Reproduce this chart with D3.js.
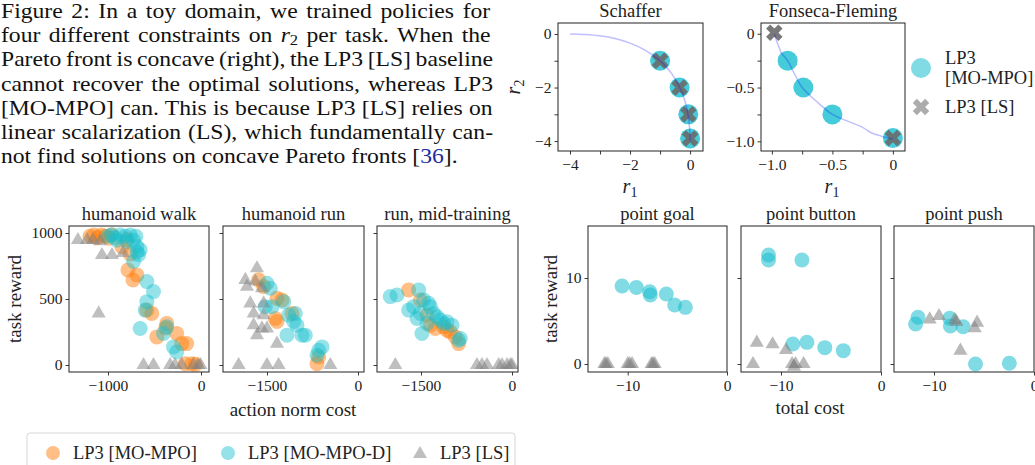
<!DOCTYPE html>
<html>
<head>
<meta charset="utf-8">
<script src="https://cdn.jsdelivr.net/npm/d3@7"></script>
<style>
body{margin:0;background:#fff;}
svg{display:block;}
svg text{font-family:"Liberation Serif", serif;}
</style>
</head>
<body>
<script>
(function(){

    //caption lines (each line is a list of text segments)
    var captionLines = [
        [{t:"Figure 2:  In a toy domain, we trained policies for"}],
        [{t:"four different constraints on "},{t:"r",it:true},{t:"2",sub:true},{t:" per task.  When the"}],
        [{t:"Pareto front is concave (right), the LP3 [LS] baseline"}],
        [{t:"cannot recover the optimal solutions, whereas LP3"}],
        [{t:"[MO-MPO] can.  This is because LP3 [LS] relies on"}],
        [{t:"linear scalarization (LS), which fundamentally can-"}],
        [{t:"not find solutions on concave Pareto fronts ["},{t:"36",link:true},{t:"]."}]
    ];

    //toy domains: pareto fronts and solutions, [r1, r2]
    var schafferFront = [[-4,0],[-3.5,-0.02],[-3,-0.07],[-2.5,-0.17],[-2,-0.34],[-1.5,-0.6],[-1,-1],
                         [-0.6,-1.5],[-0.36,-1.96],[-0.2,-2.4],[-0.07,-3],[-0.01,-3.6],[0,-4]];
    var schafferMoMpo = [[-1,-1],[-0.35,-2],[-0.06,-3],[0,-3.9]];
    var schafferLs = [[-1,-1],[-0.35,-2],[-0.06,-3],[0,-3.9]];

    var fonsecaFront = [[-0.98,0],[-0.95,-0.1],[-0.92,-0.18],[-0.87,-0.25],[-0.81,-0.38],[-0.75,-0.5],
                        [-0.63,-0.63],[-0.5,-0.75],[-0.38,-0.81],[-0.25,-0.87],[-0.18,-0.92],[-0.1,-0.95],[0,-0.98]];
    var fonsecaMoMpo = [[-0.87,-0.25],[-0.74,-0.5],[-0.5,-0.75],[0,-0.97]];
    var fonsecaLs = [[-0.98,0.01],[0,-0.97]];

    //humanoid tasks, [action norm cost, task reward]
    var walkMoMpo = [[-1194,975],[-1150,985],[-1110,965],[-1070,985],[-1030,975],[-990,960],[-960,985],
                     [-849,894],[-800,950],[-760,840],[-785,720],[-688,682],[-731,644],[-582,416],[-529,391],
                     [-475,213],[-368,315],[-380,280],[-261,239],[-207,162],[-154,162],[-171,10],[-100,10],[-60,5]];
    var walkMoMpoD = [[-1000,975],[-960,987],[-921,965],[-868,985],[-814,975],[-761,985],[-700,975],[-904,945],
                      [-796,935],[-725,945],[-689,898],[-654,873],[-688,856],[-671,835],[-725,784],[-582,632],
                      [-511,556],[-582,480],[-600,416],[-368,289],[-404,239],[-654,277],[-261,99],[-296,137]];
    var walkLs = [[-1323,947],[-1226,947],[-1161,947],[-1086,937],[-1065,833],[-957,833],[-839,848],[-1100,391],
                  [-618,0],[-511,0],[-332,0],[-279,0],[-207,0],[-82,0],[-29,0],[-5,0]];

    var runMoMpo = [[-1637,645],[-1555,594],[-1335,505],[-1253,492],[-1363,353],[-1335,330],[-1088,391],
                    [-676,10],[-648,61]];
    var runMoMpoD = [[-1500,619],[-1445,581],[-1528,442],[-1418,442],[-1225,480],[-1143,378],[-1033,391],
                     [-1006,302],[-923,226],[-1170,226],[-868,226],[-648,112],[-593,137],[-676,74],[-1060,330]];
    var runLs = [[-1665,733],[-1857,645],[-1830,594],[-1692,632],[-1583,581],[-1775,467],[-1720,391],[-1555,378],
                 [-1720,302],[-1583,277],[-1500,277],[-1665,226],[-1335,162],[-1555,467],
                 [-1967,0],[-1500,0],[-1308,0],[-456,0]];

    var midMoMpo = [[-1703,569],[-1511,492],[-1401,378],[-1346,302],[-1264,277],[-1126,289],[-1072,264],
                    [-1017,251],[-934,213],[-879,162]];
    var midMoMpoD = [[-2006,518],[-1896,530],[-1539,569],[-1703,416],[-1621,442],[-1511,391],[-1456,492],
                     [-1374,467],[-1346,442],[-1291,391],[-1236,365],[-1181,340],[-1126,315],[-1072,327],
                     [-989,302],[-1484,239],[-879,188],[-852,200],[-1566,353],[-1401,315]];
    var midLs = [[-1923,0],[-577,0],[-495,0],[-412,0],[-220,0],[-165,0],[-82,0],[-27,0],[0,0]];

    //safety gym point tasks, [total cost, task reward]
    var goalMoMpoD = [[-10.57,9.07],[-9.13,8.91],[-7.79,8.41],[-7.72,8.02],[-6.11,8.14],[-5.27,6.86],[-4.19,6.59]];
    var goalLs = [[-12.35,0],[-12.0,0],[-12.2,0],[-10.0,0],[-9.56,0],[-9.8,0],[-7.45,0],[-7.28,0],[-7.6,0]];
    var buttonMoMpoD = [[-11.25,12.67],[-11.25,12.09],[-7.91,12.09],[-8.82,2.33],[-7.41,2.52],[-5.62,1.9],[-3.77,1.55]];
    var buttonLs = [[-12.42,2.48],[-10.84,2.29],[-9.5,1.63],[-12.8,0],[-8.89,0],[-8.55,0],[-7.74,0],[-8.7,-0.3]];
    var pushMoMpoD = [[-11.6,5.43],[-11.84,4.65],[-8.43,5.31],[-8.36,4.42],[-7.09,4.34],[-5.85,0],[-2.47,0.08]];
    var pushLs = [[-10.43,5.19],[-9.5,5.58],[-7.93,5.12],[-7.75,4.9],[-5.69,4.81],[-5.92,4.15],[-7.36,1.55]];

    //legend labels
    var toyLegend = ["LP3", "[MO-MPO]", "LP3 [LS]"];
    var mainLegend = ["LP3 [MO-MPO]", "LP3 [MO-MPO-D]", "LP3 [LS]"];

    var FONT = "Liberation Serif, serif";
    var ORANGE = "#ff7f0e", TEAL = "#17becf", GRAY = "#7f7f7f", INK = "#222";
    var clipCount = 0;

    var svg = d3.select("body")
        .append("svg")
        .attr("width", 1035)
        .attr("height", 465);

    drawCaption();
    drawToyPanels();
    drawMainPanels();
    drawLegend();

    function drawCaption(){
        var lineX = 1, lineW = 492, lastW = 457, baseY = 18, step = 24.2;
        var texts = captionLines.map(function(line, i){
            var text = svg.append("text")
                .attr("font-family", FONT)
                .attr("font-size", 20)
                .attr("fill", "#111");
            var full = "";
            line.forEach(function(s, k){
                var ts = text.append("tspan").text(s.t);
                if (s.it) ts.attr("font-style", "italic");
                if (s.sub) ts.attr("font-size", 14).attr("dy", 3);
                else if (k > 0 && line[k-1].sub) ts.attr("dy", -3);
                if (s.link) ts.attr("fill", "#1c2a9e");
                full += s.t;
            });
            return {node: text, full: full, y: baseY + i * step};
        });
        //the printed caption is wider than the font, stretch it to the last line width
        var last = texts[texts.length - 1];
        var sx = lastW / last.node.node().getComputedTextLength();
        texts.forEach(function(t, i){
            t.node.attr("transform", "translate(" + lineX + "," + t.y + ") scale(" + sx + ",1)");
            //justify every line except the last one
            if (i < texts.length - 1){
                var len = t.node.node().getComputedTextLength();
                var spaces = (t.full.match(/ /g) || []).length;
                t.node.style("word-spacing", ((lineW / sx - len) / spaces) + "px");
            }
        });
    }

    //create an axes box with ticks, returns scales and group
    function makePanel(p){
        var x = d3.scaleLinear().domain(p.xDomain).range([p.left, p.right]),
            y = d3.scaleLinear().domain(p.yDomain).range([p.bottom, p.top]);
        var g = svg.append("g");

        var xAxis = g.append("g")
            .attr("transform", "translate(0," + p.bottom + ")")
            .call(d3.axisBottom(x).tickValues(p.xTicks).tickSize(3.5).tickPadding(4)
                .tickFormat(function(d){ return p.xLabels.indexOf(d) >= 0 ? p.fmt(d) : ""; }));
        var yAxis = g.append("g")
            .attr("transform", "translate(" + p.left + ",0)")
            .call(d3.axisLeft(y).tickValues(p.yTicks).tickSize(3.5).tickPadding(3)
                .tickFormat(function(d){ return p.yLabels.indexOf(d) >= 0 ? p.fmt(d) : ""; }));
        [xAxis, yAxis].forEach(function(a){
            a.attr("font-family", FONT).attr("font-size", 15.5);
            a.select(".domain").remove();
            a.selectAll("line").attr("stroke", INK).attr("stroke-width", 0.9);
            a.selectAll("text").attr("fill", INK).attr("font-family", FONT);
        });

        var id = "clip" + (clipCount++);
        g.append("clipPath").attr("id", id)
            .append("rect")
            .attr("x", p.left).attr("y", p.top)
            .attr("width", p.right - p.left).attr("height", p.bottom - p.top);
        var marks = g.append("g").attr("clip-path", "url(#" + id + ")");

        g.append("rect")
            .attr("x", p.left).attr("y", p.top)
            .attr("width", p.right - p.left).attr("height", p.bottom - p.top)
            .attr("fill", "none")
            .attr("stroke", INK)
            .attr("stroke-width", 1);

        if (p.title){
            g.append("text")
                .attr("x", (p.left + p.right) / 2)
                .attr("y", p.top - 6)
                .attr("text-anchor", "middle")
                .attr("font-family", FONT)
                .attr("font-size", 18.5)
                .attr("fill", INK)
                .text(p.title);
        }
        return {g: g, marks: marks, x: x, y: y};
    }

    function drawCircles(panel, data, color, r, op){
        panel.marks.append("g").selectAll("circle")
            .data(data)
            .enter()
            .append("circle")
            .attr("cx", function(d){ return panel.x(d[0]); })
            .attr("cy", function(d){ return panel.y(d[1]); })
            .attr("r", r)
            .attr("fill", color)
            .attr("fill-opacity", op);
    }

    function drawSymbols(panel, data, type, size, rot, color, op){
        var sym = d3.symbol().type(type).size(size);
        panel.marks.append("g").selectAll("path")
            .data(data)
            .enter()
            .append("path")
            .attr("d", sym)
            .attr("transform", function(d){
                return "translate(" + panel.x(d[0]) + "," + panel.y(d[1]) + ") rotate(" + rot + ")";
            })
            .attr("fill", color)
            .attr("fill-opacity", op);
    }

    function mathLabel(x, y, sub, rotate){
        var t = svg.append("text")
            .attr("transform", "translate(" + x + "," + y + ")" + (rotate ? " rotate(-90)" : ""))
            .attr("text-anchor", "middle")
            .attr("font-family", FONT)
            .attr("font-size", 20)
            .attr("fill", INK);
        t.append("tspan").attr("font-style", "italic").text("r");
        t.append("tspan").attr("font-size", 14).attr("dy", 4).text(sub);
    }

    function drawToyPanels(){
        var fmtInt = function(d){ return d3.format("d")(d); };
        var fmtDec = function(d){ return d === 0 ? "0" : d3.format(".1f")(d); };
        var line = d3.line().curve(d3.curveCatmullRom);

        var sch = makePanel({
            left: 558, right: 703, top: 23, bottom: 151,
            xDomain: [-4.4, 0.43], yDomain: [-4.37, 0.41],
            xTicks: [-4, -3, -2, -1, 0], xLabels: [-4, -2, 0],
            yTicks: [-4, -3, -2, -1, 0], yLabels: [-4, -2, 0],
            fmt: fmtInt, title: "Schaffer"
        });
        drawCircles(sch, schafferMoMpo, TEAL, 10, 0.8);
        drawSymbols(sch, schafferLs, d3.symbolCross, 170, 45, "#6a6a6a", 0.9);
        sch.marks.append("path")
            .datum(schafferFront.map(function(d){ return [sch.x(d[0]), sch.y(d[1])]; }))
            .attr("d", line)
            .attr("fill", "none")
            .attr("stroke", "blue")
            .attr("stroke-opacity", 0.25)
            .attr("stroke-width", 1.5);

        var fon = makePanel({
            left: 761, right: 905, top: 23, bottom: 151,
            xDomain: [-1.09, 0.1], yDomain: [-1.09, 0.1],
            xTicks: [-1, -0.75, -0.5, -0.25, 0], xLabels: [-1, -0.5, 0],
            yTicks: [-1, -0.75, -0.5, -0.25, 0], yLabels: [-1, -0.5, 0],
            fmt: fmtDec, title: "Fonseca-Fleming"
        });
        drawCircles(fon, fonsecaMoMpo, TEAL, 10, 0.8);
        drawSymbols(fon, fonsecaLs, d3.symbolCross, 170, 45, "#6a6a6a", 0.9);
        fon.marks.append("path")
            .datum(fonsecaFront.map(function(d){ return [fon.x(d[0]), fon.y(d[1])]; }))
            .attr("d", line)
            .attr("fill", "none")
            .attr("stroke", "blue")
            .attr("stroke-opacity", 0.25)
            .attr("stroke-width", 1.5);

        mathLabel(630, 193, "1", false);
        mathLabel(832, 193, "1", false);
        mathLabel(520, 87, "2", true);

        //toy legend
        var lg = svg.append("g");
        lg.append("circle").attr("cx", 921).attr("cy", 68).attr("r", 10)
            .attr("fill", TEAL).attr("fill-opacity", 0.55);
        lg.append("path").attr("d", d3.symbol().type(d3.symbolCross).size(170))
            .attr("transform", "translate(921,107) rotate(45)")
            .attr("fill", GRAY).attr("fill-opacity", 0.65);
        [[945, 64, toyLegend[0]], [945, 84, toyLegend[1]], [945, 113, toyLegend[2]]].forEach(function(t){
            lg.append("text")
                .attr("x", t[0]).attr("y", t[1])
                .attr("font-family", FONT).attr("font-size", 18.5).attr("fill", INK)
                .text(t[2]);
        });
    }

    function drawMainPanels(){
        var fmtInt = function(d){ return d3.format("d")(d); };
        var top = 226, bottom = 372;
        var humanoid = [
            {title: "humanoid walk", left: 69, right: 209, xDomain: [-1419, 86], xTicks: [-1000, 0],
             yLabels: [0, 500, 1000], sets: [walkMoMpo, walkMoMpoD, walkLs]},
            {title: "humanoid run", left: 223, right: 364, xDomain: [-2225, 99], xTicks: [-1500, 0],
             yLabels: [], sets: [runMoMpo, runMoMpoD, runLs]},
            {title: "run, mid-training", left: 377, right: 518, xDomain: [-2225, 99], xTicks: [-1500, 0],
             yLabels: [], sets: [midMoMpo, midMoMpoD, midLs]}
        ];
        humanoid.forEach(function(h){
            var p = makePanel({
                left: h.left, right: h.right, top: top, bottom: bottom,
                xDomain: h.xDomain, yDomain: [-53, 1053],
                xTicks: h.xTicks, xLabels: h.xTicks,
                yTicks: [0, 500, 1000], yLabels: h.yLabels,
                fmt: fmtInt, title: h.title
            });
            drawCircles(p, h.sets[0], ORANGE, 7.5, 0.5);
            drawCircles(p, h.sets[1], TEAL, 7.5, 0.45);
            drawSymbols(p, h.sets[2], d3.symbolTriangle, 85, 0, GRAY, 0.5);
        });

        var point = [
            {title: "point goal", left: 588, right: 727, yLabels: [0, 10], sets: [goalMoMpoD, goalLs]},
            {title: "point button", left: 741, right: 881, yLabels: [], sets: [buttonMoMpoD, buttonLs]},
            {title: "point push", left: 894, right: 1034, yLabels: [], sets: [pushMoMpoD, pushLs]}
        ];
        point.forEach(function(h){
            var p = makePanel({
                left: h.left, right: h.right, top: top, bottom: bottom,
                xDomain: [-14, 0], yDomain: [-0.93, 16.05],
                xTicks: [-10, 0], xLabels: [-10, 0],
                yTicks: [0, 10], yLabels: h.yLabels,
                fmt: fmtInt, title: h.title
            });
            drawCircles(p, h.sets[0], TEAL, 7.5, 0.55);
            drawSymbols(p, h.sets[1], d3.symbolTriangle, 85, 0, GRAY, 0.55);
        });

        //axis titles
        var labels = [
            {x: 14, y: 299, r: true, t: "task reward"},
            {x: 293, y: 416, r: false, t: "action norm cost"},
            {x: 550, y: 299, r: true, t: "task reward"},
            {x: 810, y: 414, r: false, t: "total cost"}
        ];
        labels.forEach(function(l){
            svg.append("text")
                .attr("transform", "translate(" + l.x + "," + l.y + ")" + (l.r ? " rotate(-90)" : ""))
                .attr("text-anchor", "middle")
                .attr("dy", l.r ? "0.35em" : 0)
                .attr("font-family", FONT)
                .attr("font-size", 19)
                .attr("fill", INK)
                .text(l.t);
        });
    }

    function drawLegend(){
        var g = svg.append("g");
        g.append("rect")
            .attr("x", 27).attr("y", 433).attr("width", 488).attr("height", 40).attr("rx", 3)
            .attr("fill", "#fff").attr("stroke", "#d6d6d6");
        var xs = [53, 228, 420];
        g.append("circle").attr("cx", xs[0]).attr("cy", 453).attr("r", 7)
            .attr("fill", ORANGE).attr("fill-opacity", 0.5);
        g.append("circle").attr("cx", xs[1]).attr("cy", 453).attr("r", 7)
            .attr("fill", TEAL).attr("fill-opacity", 0.45);
        g.append("path").attr("d", d3.symbol().type(d3.symbolTriangle).size(85))
            .attr("transform", "translate(" + xs[2] + ",454)")
            .attr("fill", GRAY).attr("fill-opacity", 0.5);
        mainLegend.forEach(function(t, i){
            g.append("text")
                .attr("x", xs[i] + 20).attr("y", 459)
                .attr("font-family", FONT).attr("font-size", 18.5).attr("fill", INK)
                .text(t);
        });
    }

})();
</script>
</body>
</html>
